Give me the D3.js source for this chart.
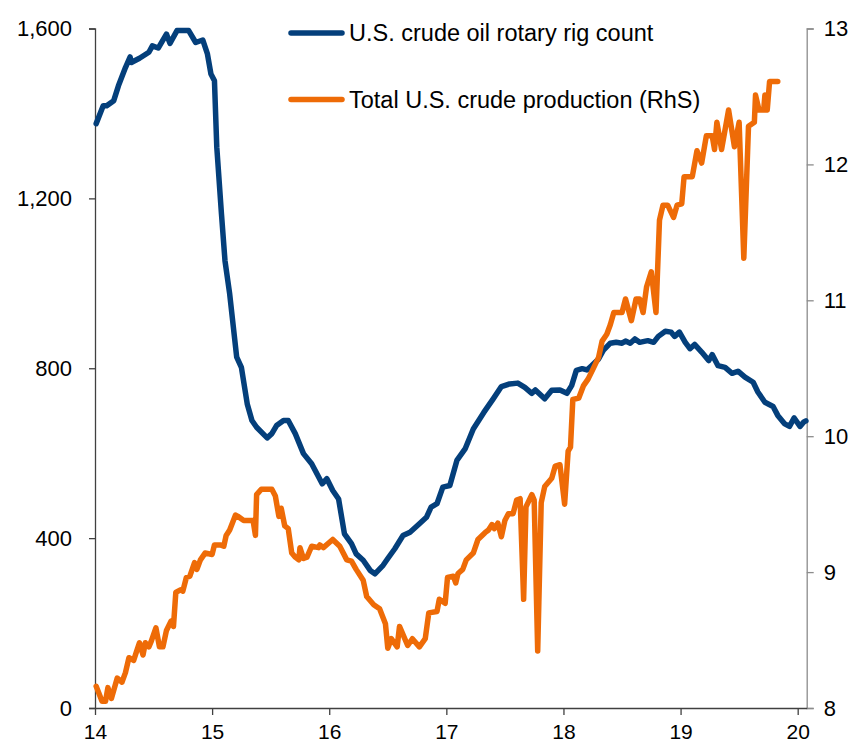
<!DOCTYPE html>
<html>
<head>
<meta charset="utf-8">
<script src="https://cdn.jsdelivr.net/npm/d3@7"></script>
<style>
  html, body { margin: 0; padding: 0; background: #fff; }
  svg { display: block; font-family: Arial, "Liberation Sans", sans-serif; }
</style>
</head>
<body>
<div id="chart"></div>
<script>
// US rig count (LhS) vs total US crude production (RhS, mb/d), 2014-2020

const yearTicks = [14, 15, 16, 17, 18, 19, 20];
const rigTicks = [0, 400, 800, 1200, 1600];
const prodTicks = [8, 9, 10, 11, 12, 13];

const rigDates = [
  14.01, 14.07, 14.10, 14.16, 14.20, 14.26, 14.30, 14.31, 14.38, 14.46,
  14.49, 14.54, 14.61, 14.64, 14.70, 14.80, 14.86, 14.92, 14.96, 14.99,
  15.02, 15.04, 15.08, 15.11, 15.15, 15.21, 15.25, 15.30, 15.34, 15.38,
  15.47, 15.51, 15.55, 15.61, 15.65, 15.71, 15.78, 15.85, 15.94, 15.98,
  16.03, 16.08, 16.13, 16.19, 16.23, 16.29, 16.35, 16.39, 16.46, 16.50,
  16.56, 16.63, 16.69, 16.77, 16.83, 16.87, 16.92, 16.97, 17.03, 17.09,
  17.16, 17.23, 17.32, 17.40, 17.47, 17.54, 17.61, 17.67, 17.73, 17.76,
  17.84, 17.90, 17.97, 18.03, 18.07, 18.11, 18.16, 18.20, 18.24, 18.30,
  18.34, 18.40, 18.45, 18.50, 18.53, 18.57, 18.61, 18.65, 18.72, 18.77,
  18.81, 18.87, 18.92, 18.95, 18.99, 19.04, 19.08, 19.12, 19.18, 19.24,
  19.27, 19.32, 19.38, 19.44, 19.49, 19.55, 19.62, 19.66, 19.72, 19.79,
  19.83, 19.89, 19.93, 19.97, 20.02, 20.05, 20.07
];
const rigCount = [
  1376, 1418, 1418, 1430, 1465, 1508, 1533, 1520, 1530, 1544,
  1559, 1554, 1587, 1565, 1595, 1595, 1567, 1573, 1540, 1493,
  1477, 1320, 1163, 1053, 975, 826, 802, 716, 677, 661,
  636, 646, 665, 677, 677, 646, 599, 575, 528, 540,
  512, 492, 410, 387, 363, 348, 324, 316, 336, 352,
  375, 406, 414, 434, 449, 473, 481, 520, 524, 583,
  610, 657, 696, 728, 757, 763, 765, 755, 741, 749,
  728, 748, 749, 741, 759, 795, 799, 796, 806, 822,
  842, 859, 861, 859, 864, 859, 869, 861, 865, 861,
  875, 887, 885, 875, 885, 861, 846, 856, 838, 818,
  832, 806, 802, 788, 793, 779, 767, 744, 720, 710,
  689, 669, 663, 683, 663, 673, 676
];

const prodDates = [
  14.01, 14.06, 14.09, 14.11, 14.14, 14.19, 14.23, 14.26, 14.29, 14.33,
  14.36, 14.38, 14.41, 14.43, 14.46, 14.48, 14.52, 14.55, 14.58, 14.61,
  14.65, 14.67, 14.69, 14.73, 14.75, 14.78, 14.81, 14.85, 14.87, 14.90,
  14.94, 15.00, 15.02, 15.07, 15.10, 15.12, 15.15, 15.20, 15.22, 15.27,
  15.35, 15.37, 15.38, 15.42, 15.51, 15.54, 15.57, 15.59, 15.62, 15.65,
  15.68, 15.71, 15.74, 15.75, 15.78, 15.81, 15.85, 15.91, 15.92, 15.95,
  16.03, 16.09, 16.15, 16.19, 16.23, 16.29, 16.32, 16.38, 16.43, 16.48,
  16.50, 16.53, 16.58, 16.60, 16.67, 16.71, 16.77, 16.82, 16.85, 16.92,
  16.94, 16.99, 17.01, 17.06, 17.08, 17.10, 17.14, 17.17, 17.23, 17.27,
  17.33, 17.36, 17.39, 17.41, 17.44, 17.47, 17.50, 17.53, 17.57, 17.60,
  17.63, 17.66, 17.68, 17.73, 17.75, 17.78, 17.81, 17.84, 17.90, 17.93,
  17.97, 18.01, 18.04, 18.06, 18.08, 18.13, 18.17, 18.21, 18.25, 18.30,
  18.33, 18.37, 18.40, 18.43, 18.50, 18.53, 18.58, 18.62, 18.65, 18.68,
  18.71, 18.75, 18.79, 18.82, 18.85, 18.89, 18.94, 18.97, 19.01, 19.03,
  19.10, 19.14, 19.18, 19.22, 19.27, 19.29, 19.31, 19.35, 19.41, 19.46,
  19.50, 19.54, 19.58, 19.63, 19.64, 19.67, 19.71, 19.72, 19.74, 19.76,
  19.83
];
const crudeProd = [
  8.16, 8.05, 8.05, 8.15, 8.07, 8.22, 8.19, 8.26, 8.37, 8.35,
  8.43, 8.48, 8.39, 8.48, 8.45, 8.49, 8.59, 8.45, 8.45, 8.57,
  8.64, 8.60, 8.85, 8.87, 8.86, 8.96, 8.97, 9.07, 9.02, 9.09,
  9.14, 9.13, 9.20, 9.20, 9.19, 9.27, 9.31, 9.42, 9.41, 9.38,
  9.38, 9.27, 9.57, 9.61, 9.61, 9.56, 9.41, 9.47, 9.34, 9.32,
  9.14, 9.11, 9.09, 9.18, 9.10, 9.11, 9.19, 9.18, 9.20, 9.18,
  9.24, 9.19, 9.09, 9.08, 9.02, 8.94, 8.82, 8.76, 8.73, 8.62,
  8.44, 8.51, 8.45, 8.60, 8.46, 8.51, 8.45, 8.51, 8.70, 8.71,
  8.80, 8.77, 8.96, 8.97, 8.92, 8.99, 9.02, 9.09, 9.14, 9.24,
  9.29, 9.31, 9.35, 9.32, 9.36, 9.26, 9.38, 9.43, 9.43, 9.53,
  9.54, 8.80, 9.48, 9.57, 9.53, 8.42, 9.51, 9.63, 9.69, 9.78,
  9.79, 9.50, 9.89, 9.92, 10.27, 10.28, 10.37, 10.42, 10.49, 10.58,
  10.70, 10.75, 10.82, 10.91, 10.91, 11.01, 10.85, 11.01, 11.01, 10.91,
  11.10, 11.21, 10.91, 11.59, 11.70, 11.70, 11.61, 11.70, 11.71, 11.91,
  11.91, 12.10, 12.01, 12.21, 12.21, 12.11, 12.31, 12.11, 12.40, 12.13,
  12.31, 11.31, 12.28, 12.31, 12.51, 12.40, 12.40, 12.51, 12.40, 12.61,
  12.61
];

const COLORS = {
  rig: '#043f7b', prod: '#ee6b07',
  axisL: '#404040', axisR: '#8c8c8c', text: '#000000',
};

const W = 857, H = 745, M = { top: 28.5, right: 50.3, bottom: 37, left: 95 };
const iW = W - M.left - M.right;
const iH = H - M.top - M.bottom;

const svg = d3.select('#chart').append('svg')
  .attr('width', W).attr('height', H);

const g = svg.append('g').attr('transform', `translate(${M.left},${M.top})`);

const x = d3.scaleLinear().domain([14, 20.077]).range([0, iW]);
const yL = d3.scaleLinear().domain([0, 1600]).range([iH, 0]);
const yR = d3.scaleLinear().domain([8, 13]).range([iH, 0]);

// ── axes ────────────────────────────────────────────────────────────────────

function styleAxis(ax, color, size) {
  ax.select('.domain').attr('stroke', color).attr('stroke-width', 1.3);
  ax.selectAll('.tick line').attr('stroke', color).attr('stroke-width', 1.3);
  ax.selectAll('text').attr('fill', COLORS.text).attr('font-size', size)
    .attr('font-family', 'Arial, "Liberation Sans", sans-serif');
}

g.append('g')
  .call(d3.axisLeft(yL).tickValues(rigTicks).tickSize(6).tickSizeOuter(6)
    .tickPadding(17).tickFormat(d3.format(',')))
  .call(ax => styleAxis(ax, COLORS.axisL, 22));

g.append('g').attr('transform', `translate(${iW},0)`)
  .call(d3.axisRight(yR).tickValues(prodTicks).tickSize(7).tickSizeOuter(7)
    .tickPadding(10).tickFormat(d3.format('d')))
  .call(ax => styleAxis(ax, COLORS.axisR, 22));

g.append('g').attr('transform', `translate(0,${iH})`)
  .call(d3.axisBottom(x).tickValues(yearTicks).tickSize(7).tickSizeOuter(0)
    .tickPadding(9).tickFormat(d3.format('d')))
  .call(ax => styleAxis(ax, COLORS.axisL, 21));

// ── lines ───────────────────────────────────────────────────────────────────

const rigData = rigDates.map((d, i) => ({ t: d, v: rigCount[i] }));
const prodData = prodDates.map((d, i) => ({ t: d, v: crudeProd[i] }));

const lineRig = d3.line().x(d => x(d.t)).y(d => yL(d.v));
const lineProd = d3.line().x(d => x(d.t)).y(d => yR(d.v));

g.append('path').attr('d', lineRig(rigData))
  .attr('fill', 'none').attr('stroke', COLORS.rig).attr('stroke-width', 5.5)
  .attr('stroke-linejoin', 'round').attr('stroke-linecap', 'round');

g.append('path').attr('d', lineProd(prodData))
  .attr('fill', 'none').attr('stroke', COLORS.prod).attr('stroke-width', 5.5)
  .attr('stroke-linejoin', 'round').attr('stroke-linecap', 'round');

// ── legend ──────────────────────────────────────────────────────────────────

const legend = [
  { color: COLORS.rig, label: 'U.S. crude oil rotary rig count', y: 33 },
  { color: COLORS.prod, label: 'Total U.S. crude production (RhS)', y: 99.5 },
];
legend.forEach(l => {
  svg.append('line').attr('x1', 291).attr('x2', 342).attr('y1', l.y).attr('y2', l.y)
    .attr('stroke', l.color).attr('stroke-width', 5.5).attr('stroke-linecap', 'round');
  svg.append('text').attr('x', 349).attr('y', l.y + 8)
    .attr('fill', COLORS.text).attr('font-size', 23.5)
    .text(l.label);
});
</script>
</body>
</html>
